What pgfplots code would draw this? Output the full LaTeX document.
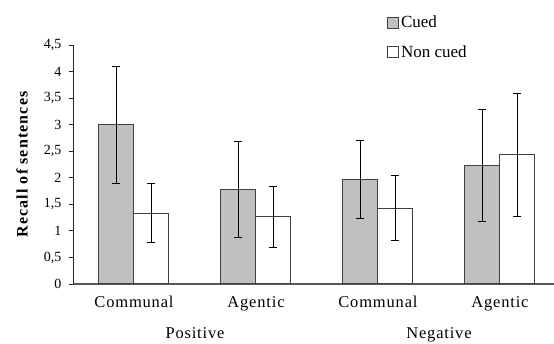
\documentclass[border=0pt]{standalone}
\usepackage{fontspec}
\setmainfont{Liberation Serif}
\newfontfamily\spaced[LetterSpace=5]{Liberation Serif}
\newfontfamily\spacedy[LetterSpace=7]{Liberation Serif}
\usepackage{pgfplots}
\pgfplotsset{compat=1.18}
\definecolor{cuedgray}{RGB}{192,192,192}
\definecolor{edge}{RGB}{64,64,64}
\begin{document}
\begin{tikzpicture}
\begin{axis}[
  name=ax,
  width=481pt, height=239pt, scale only axis,
  xmin=-0.5, xmax=3.443, ymin=0, ymax=4.5,
  ybar=0pt, bar width=35pt,
  axis x line=bottom, axis y line=left,
  x axis line style={-, draw=black!65, line width=1.4pt},
  y axis line style={-, draw=black!85, line width=0.8pt},
  xtick={0,1,2,3}, xticklabels={Communal,Agentic,Communal,Agentic},
  xtick style={draw=none},
  xticklabel style={font=\fontsize{16.5}{19}\selectfont\spaced, anchor=base, yshift=-22pt},
  ytick={0,0.5,...,4.5},
  ytick align=outside, major tick length=4pt,
  ytick style={draw=black!85, line width=0.8pt},
  /pgf/number format/use comma,
  /pgf/number format/assume math mode=true,
  yticklabel style={font=\fontsize{14}{16}\selectfont, xshift=-4pt},
  ylabel={Recall of sentences},
  every axis y label/.style={at={(axis description cs:-0.106,0.5)}, rotate=90, anchor=center,
    font=\fontsize{16}{19}\selectfont\spacedy\bfseries},
  clip=false,
  legend style={draw=none, fill=none, at={(rel axis cs:0.653,1.13)}, anchor=north west,
    font=\fontsize{17}{20}\selectfont, row sep=12pt, inner sep=0pt,
    /tikz/every even column/.append style={column sep=4pt}},
  legend cell align=left,
  legend image code/.code={\draw[#1, draw=edge, line width=0.8pt] (0pt,-5.5pt) rectangle (11pt,5.5pt);},
  error bars/error bar style={black, line width=0.9pt},
  error bars/error mark options={rotate=90, mark size=4pt, line width=0.9pt, black},
]
\addplot[fill=cuedgray, draw=edge, line width=1pt,
  error bars/.cd, y dir=both, y explicit]
  coordinates {
    (0,3.00) +- (0,1.10)
    (1,1.78) +- (0,0.90)
    (2,1.96) +- (0,0.735)
    (3,2.24) +- (0,1.055)
  };
\addlegendentry{Cued}
\addplot[fill=white, draw=edge, line width=1pt,
  error bars/.cd, y dir=both, y explicit]
  coordinates {
    (0,1.33) +- (0,0.555)
    (1,1.27) +- (0,0.575)
    (2,1.43) +- (0,0.615)
    (3,2.43) +- (0,1.155)
  };
\addlegendentry{Non cued}
\node[anchor=base, font=\fontsize{16.5}{19}\selectfont\spaced] at (axis cs:0.5,0) [yshift=-55pt] {Positive};
\node[anchor=base, font=\fontsize{16.5}{19}\selectfont\spaced] at (axis cs:2.5,0) [yshift=-55pt] {Negative};
\end{axis}
\pgfresetboundingbox
\path (ax.south west) ++(-73pt,-60pt) rectangle ++(554pt,344pt);
\end{tikzpicture}
\end{document}
